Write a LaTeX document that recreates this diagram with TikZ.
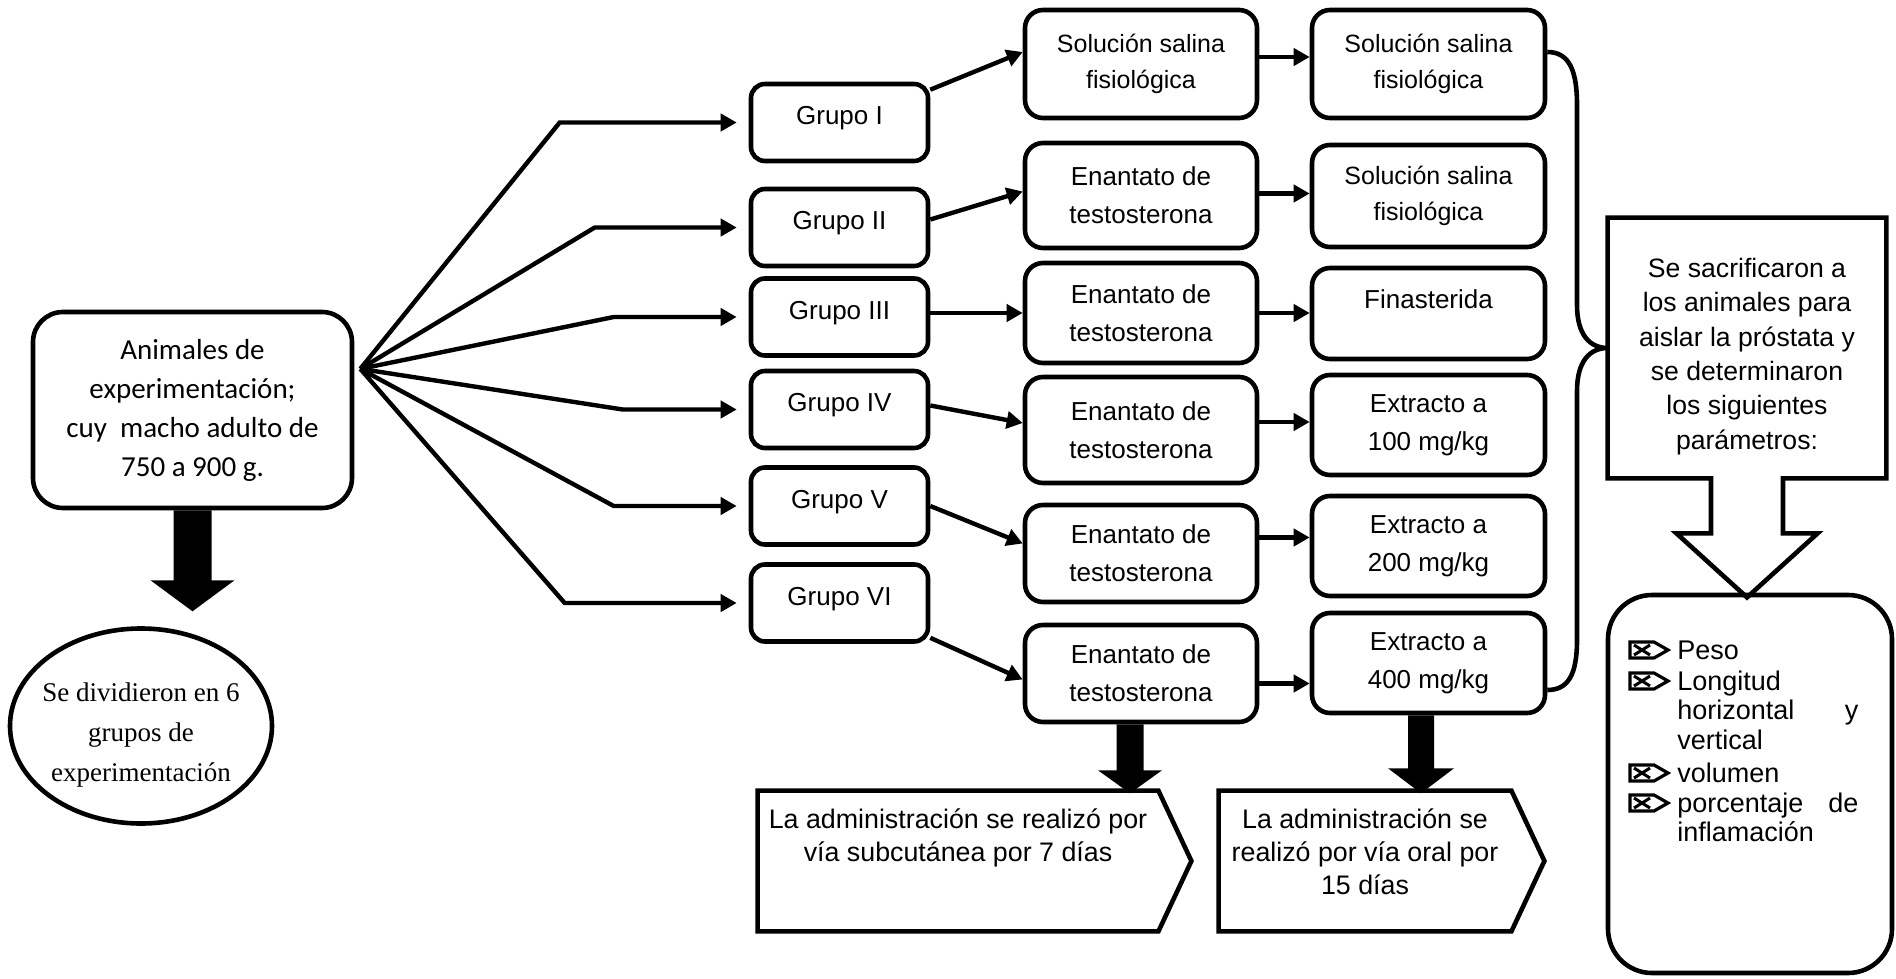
\documentclass[tikz,border=0pt]{standalone}
\usepackage{fontspec}
\setmainfont{Liberation Sans}
\newfontfamily\calibrifont{Carlito}
\newfontfamily\cambriafont{Liberation Serif}
\usetikzlibrary{positioning, shapes.geometric, arrows.meta, calc}

\tikzset{
  xbox/.pic={
    \draw[line width=1.6pt, line join=miter] (-19,-8) -- (5,-8) -- (19,0) -- (5,8) -- (-19,8) -- cycle;
    \draw[line width=1.5pt] (-15,-5) -- (1,5) (-15,5) -- (1,-5);
  }
}

\begin{document}
\begin{tikzpicture}[x=0.5pt, y=-0.5pt,
  box/.style={rectangle, rounded corners=9pt, draw, line width=2.3pt, align=center,
    inner sep=0pt, font=\fontsize{13}{19}\selectfont},
  grp/.style={box, rounded corners=7pt, minimum width=88.5pt, minimum height=38.5pt,
    text height=10pt, text depth=7.7pt},
  trt/.style={box, minimum width=116pt},
  ext/.style={box, minimum width=116.5pt},
  link/.style={-{Triangle[length=8pt, width=8.5pt]}, line width=2.2pt},
  txt/.style={align=center, inner sep=0pt, font=\fontsize{13.4}{16.5}\selectfont},
  item/.style={anchor=base west, inner sep=0pt, text width=90.5pt, align=left,
    font=\fontsize{13.5}{14.75}\selectfont}
]
\useasboundingbox (0,0) rectangle (1896,979);

% animales y division
\node[box, rounded corners=15pt, minimum width=159.5pt, minimum height=98pt,
  font={\calibrifont\fontsize{14.5}{19.5}\selectfont}] (anim) at (192.5,410)
  {Animales de\\experimentación;\\cuy~ macho adulto de\\750 a 900 g.};
\node[ellipse, draw, line width=2.3pt, minimum width=131pt, minimum height=97.5pt]
  (divid) at (141,726) {};
\node[align=center, inner sep=0pt, font={\cambriafont\fontsize{13.5}{20}\selectfont}]
  (dividtxt) at ($(divid)+(0,9)$) {Se dividieron en 6\\grupos de\\experimentación};
\fill ($(anim.south)+(-19,0)$) -- ++(0,70) -- ++(-23,0) -- ($(anim.south)+(0,101)$)
  -- ($(anim.south)+(42,70)$) -- ++(-23,0) -- ($(anim.south)+(19,0)$) -- cycle;

% grupos
\foreach \i/\rom/\y in {1/I/122.5, 2/II/227.5, 3/III/317, 4/IV/409.5, 5/V/506, 6/VI/603}
  \node[grp] (g\i) at (839.5,\y) {Grupo \rom};

\coordinate (fan) at ($(anim.north east)!0.295!(anim.south east)+(6,0)$);
\foreach \i/\dx in {1/94.5, 2/77, 3/67.5, 4/63, 5/67.5, 6/92}
  \draw[link, shorten >=6pt] (fan) -- ([xshift=-\dx pt]g\i.west) -- (g\i.west);

% primera administracion
\node[trt, minimum height=54pt, font={\fontsize{12.5}{18}\selectfont}] (t1) at (1141,64)
  {Solución salina\\fisiológica};
\node[trt, minimum height=52.5pt] (t2) at (1141,195.5) {Enantato de\\testosterona};
\node[trt, minimum height=50pt] (t3) at (1141,313) {Enantato de\\testosterona};
\node[trt, minimum height=53pt] (t4) at (1141,430) {Enantato de\\testosterona};
\node[trt, minimum height=48.5pt] (t5) at (1141,553.5) {Enantato de\\testosterona};
\node[trt, minimum height=48.5pt] (t6) at (1141,673.5) {Enantato de\\testosterona};

% segunda administracion
\node[ext, minimum height=54pt, font={\fontsize{12.5}{18}\selectfont}] (e1) at (1428.5,64)
  {Solución salina\\fisiológica};
\node[ext, minimum height=51pt, font={\fontsize{12.5}{18}\selectfont}] (e2) at (1428.5,196)
  {Solución salina\\fisiológica};
\node[ext, minimum height=45.5pt, text height=9.5pt, text depth=14.2pt] (e3) at (1428.5,313.5)
  {Finasterida};
\node[ext, minimum height=50pt] (e4) at (1428.5,425) {Extracto a\\100 mg/kg};
\node[ext, minimum height=50pt] (e5) at (1428.5,546) {Extracto a\\200 mg/kg};
\node[ext, minimum height=50pt] (e6) at (1428.5,663) {Extracto a\\400 mg/kg};

\draw[link] ($(g1.north east)+(0,8)$) -- ($(t1.west)+(0,-12)$);
\draw[link] ($(g2.east)+(0,-8)$) -- ($(t2.west)+(0,-4)$);
\draw[link] (g3.east |- t3) -- (t3.west);
\draw[link] ($(g4.east)+(0,-4)$) -- ($(t4.west)+(0,-7)$);
\draw[link] (g5.east) -- ($(t5.west)+(0,-10)$);
\draw[link] ($(g6.south east)+(0,-6)$) -- ($(t6.west)+(0,6)$);

\foreach \i/\o in {1/-7, 2/-2, 3/0, 4/-8, 5/-16, 6/10}
  \draw[link] ($(t\i.east)+(0,\o)$) -- ($(e\i.west |- t\i.east)+(0,\o)$);

% via de administracion
\node[minimum width=200pt, minimum height=70pt, inner sep=0pt] (adm1) at (958,861) {};
\draw[line width=2.3pt] (adm1.north west) -- (adm1.north east) -- ($(adm1.east)+(33,0)$)
  -- (adm1.south east) -- (adm1.south west) -- cycle;
\node[txt, below=9pt of adm1.north] (adm1txt)
  {La administración se realizó por\\vía subcutánea por 7 días};
\node[minimum width=146pt, minimum height=70pt, inner sep=0pt] (adm2) at (1365,861) {};
\draw[line width=2.3pt] (adm2.north west) -- (adm2.north east) -- ($(adm2.east)+(33,0)$)
  -- (adm2.south east) -- (adm2.south west) -- cycle;
\node[txt, below=9pt of adm2.north] (adm2txt)
  {La administración se\\realizó por vía oral por\\15 días};

\fill ($(t6.south)+(-24.5,0)$) -- ++(0,46) -- ++(-18.5,0) -- ($(t6.south)+(-11,69)$)
  -- ($(t6.south)+(21,46)$) -- ++(-18.5,0) -- ($(t6.south)+(2.5,0)$) -- cycle;
\fill ($(e6.south)+(-20.5,0)$) -- ++(0,53) -- ++(-20,0) -- ($(e6.south)+(-7.5,78)$)
  -- ($(e6.south)+(25.5,53)$) -- ++(-20,0) -- ($(e6.south)+(5.5,0)$) -- cycle;

% sacrificio y parametros
\node[minimum width=139pt, minimum height=130pt, inner sep=0pt] (sacri) at (1747,348) {};
\draw[line width=2.3pt] (sacri.north west) -- (sacri.north east) -- (sacri.south east)
  -- ($(sacri.south)+(36,0)$) -- ++(0,55) -- ++(34.5,0) -- ($(sacri.south)+(0,119)$)
  -- ($(sacri.south)+(-70.5,55)$) -- ++(34.5,0) -- ($(sacri.south)+(-36,0)$)
  -- (sacri.south west) -- cycle;
\node[txt, font={\fontsize{13.3}{17.2}\selectfont}, below=20pt of sacri.north] (sacritxt)
  {Se sacrificaron a\\los animales para\\aislar la próstata y\\se determinaron\\los siguientes\\parámetros:};

\draw[line width=2.3pt] ($(e1.east)+(0,-12)$) .. controls (1570,52) and (1577,72) .. (1577,105)
  -- (1577,305) .. controls (1577,335) and (1590,348) .. (sacri.west)
  .. controls (1590,348) and (1577,361) .. (1577,391) -- (1577,640)
  .. controls (1577,675) and (1568,690) .. ($(e6.east)+(0,27)$);

\node[draw, line width=2.3pt, rounded corners=22pt, minimum width=142pt, minimum height=189pt,
  inner sep=0pt] (params) at (1750,784) {};
\node[item] (p1) at (1677,659) {Peso};
\node[item] (p2) at (1677,690) {Longitud\\horizontal\hfill y\\vertical};
\node[item] (p3) at (1677,782) {volumen};
\node[item] (p4) at (1677,812) {porcentaje\hfill de\\inflamación};
\foreach \y in {650,681,773,803}
  \pic at (1649,\y) {xbox};
\end{tikzpicture}
\end{document}
